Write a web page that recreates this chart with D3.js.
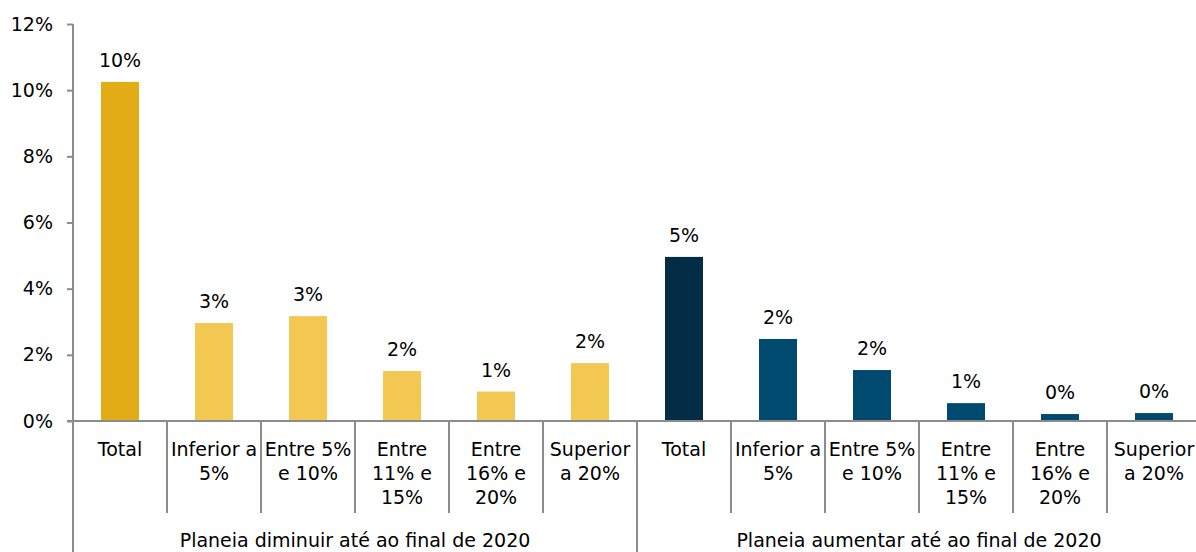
<!DOCTYPE html>
<html>
<head>
<meta charset="utf-8">
<script src="https://cdn.jsdelivr.net/npm/d3@7"></script>
<style>
  body { margin: 0; background: #fff; }
  svg text { font-family: "DejaVu Sans", Verdana, sans-serif; fill: #000; }
</style>
</head>
<body>
<div id="chart"></div>
<script>
// data
var groups = ["Planeia diminuir até ao final de 2020", "Planeia aumentar até ao final de 2020"];
var categories = [
  ["Total"], ["Inferior a", "5%"], ["Entre 5%", "e 10%"], ["Entre", "11% e", "15%"], ["Entre", "16% e", "20%"], ["Superior", "a 20%"],
  ["Total"], ["Inferior a", "5%"], ["Entre 5%", "e 10%"], ["Entre", "11% e", "15%"], ["Entre", "16% e", "20%"], ["Superior", "a 20%"]
];
var groupOf = [0,0,0,0,0,0,1,1,1,1,1,1];
var values = [10.25, 2.96, 3.17, 1.51, 0.89, 1.75, 4.96, 2.48, 1.54, 0.54, 0.21, 0.24];
var yTicks = [0, 2, 4, 6, 8, 10, 12];

var svgWidth = 1196, svgHeight = 552;
var margin = { top: 24, left: 73, bottom: 131 };
var bandW = 94;
var fs = 19;

var svg = d3.select("#chart").append("svg")
  .attr("width", svgWidth)
  .attr("height", svgHeight);

var x = d3.scaleBand()
  .domain(d3.range(values.length))
  .range([margin.left, margin.left + bandW * values.length]);

var y = d3.scaleLinear()
  .domain([0, 12])
  .range([svgHeight - margin.bottom, margin.top]);

var barColor = function(i) {
  var isTotal = categories[i][0] === "Total";
  if (groupOf[i] === 0) return isTotal ? "#E2AC16" : "#F2C752";
  return isTotal ? "#022D44" : "#004A70";
};

var barW = 38;
var y0 = y(0);

// bars
svg.selectAll("rect.bar")
  .data(values)
  .enter()
  .append("rect")
  .attr("class", "bar")
  .attr("x", (d, i) => x(i) + (x.bandwidth() - barW) / 2)
  .attr("y", d => y(d))
  .attr("width", barW)
  .attr("height", d => y0 - y(d))
  .attr("fill", (d, i) => barColor(i));

// value labels
svg.selectAll("text.val")
  .data(values)
  .enter()
  .append("text")
  .attr("class", "val")
  .attr("x", (d, i) => x(i) + x.bandwidth() / 2)
  .attr("y", d => y(d) - 15)
  .attr("text-anchor", "middle")
  .attr("font-size", fs)
  .text(d => Math.round(d) + "%");

// y axis
var leftAxis = d3.axisLeft(y)
  .tickValues(yTicks)
  .tickFormat(d => d + "%")
  .tickSize(6)
  .tickSizeOuter(0)
  .tickPadding(14);

var yg = svg.append("g")
  .attr("transform", `translate(${margin.left}, 0)`)
  .call(leftAxis);
yg.select(".domain").remove();
yg.selectAll("line").attr("stroke", "#8c8c8c").attr("stroke-width", 2);
yg.selectAll("text").attr("font-size", fs).style("font-family", "DejaVu Sans, Verdana, sans-serif");

var axisColor = "#8c8c8c";
// vertical axis line, running down through the category area
svg.append("line")
  .attr("x1", margin.left).attr("x2", margin.left)
  .attr("y1", y(12)).attr("y2", svgHeight)
  .attr("stroke", axisColor).attr("stroke-width", 2);

// horizontal baseline
svg.append("line")
  .attr("x1", margin.left - 6).attr("x2", svgWidth)
  .attr("y1", y0).attr("y2", y0)
  .attr("stroke", axisColor).attr("stroke-width", 2);

// category separators
var seps = d3.range(1, values.length + 1);
svg.selectAll("line.sep")
  .data(seps)
  .enter()
  .append("line")
  .attr("class", "sep")
  .attr("x1", i => margin.left + bandW * i)
  .attr("x2", i => margin.left + bandW * i)
  .attr("y1", y0)
  .attr("y2", i => i === 6 ? svgHeight : y0 + 92)
  .attr("stroke", axisColor).attr("stroke-width", 2);

// category labels
var cat = svg.selectAll("text.cat")
  .data(categories)
  .enter()
  .append("text")
  .attr("class", "cat")
  .attr("text-anchor", "middle")
  .attr("font-size", fs)
  .attr("transform", (d, i) => `translate(${x(i) + x.bandwidth() / 2}, ${y0 + 35})`);

cat.selectAll("tspan")
  .data(d => d)
  .enter()
  .append("tspan")
  .attr("x", 0)
  .attr("y", (d, j) => j * 24)
  .text(d => d);

// group labels
svg.selectAll("text.grp")
  .data(groups)
  .enter()
  .append("text")
  .attr("class", "grp")
  .attr("text-anchor", "middle")
  .attr("font-size", fs)
  .attr("x", (d, g) => margin.left + bandW * 6 * g + bandW * 3)
  .attr("y", 547)
  .text(d => d);
</script>
</body>
</html>
